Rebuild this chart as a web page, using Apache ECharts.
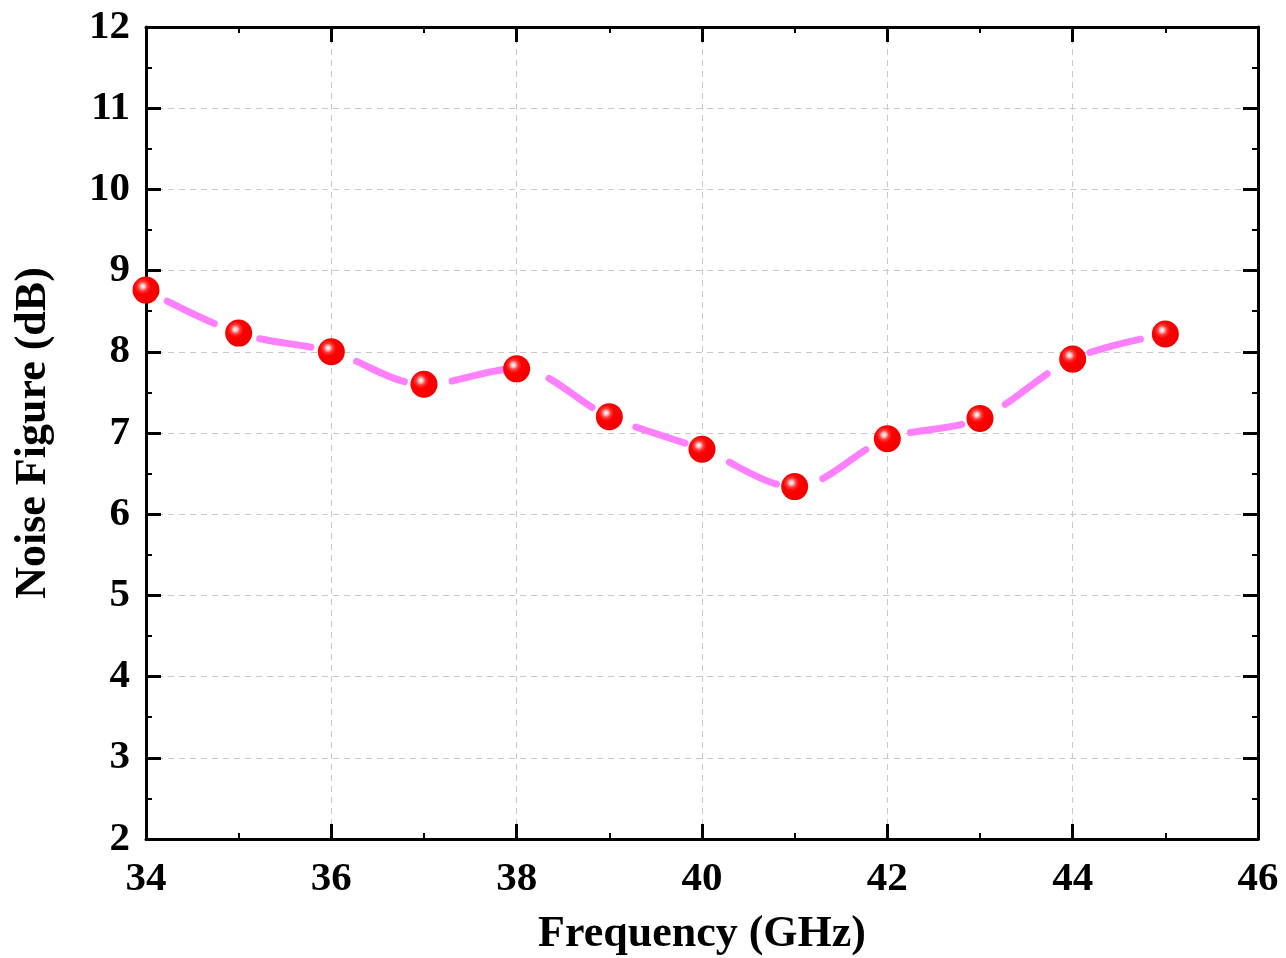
<!DOCTYPE html>
<html>
<head>
<meta charset="utf-8">
<script src="https://cdn.jsdelivr.net/npm/echarts@6/dist/echarts.min.js"></script>
<style>
  html, body { margin: 0; padding: 0; background: #fff; }
  #chart { width: 1286px; height: 958px; }
</style>
</head>
<body>
<div id="chart"></div>
<script>
// Measured noise figure across the band
const frequencyGHz = [34, 35, 36, 37, 38, 39, 40, 41, 42, 43, 44, 45];
const noiseFigureDb = [8.76, 8.23, 8.0, 7.6, 7.79, 7.2, 6.8, 6.34, 6.93, 7.18, 7.91, 8.22];

const xTitle = 'Frequency (GHz)';
const yTitle = 'Noise Figure (dB)';

const FONT = '"Liberation Serif", "Times New Roman", serif';
const AXIS_COLOR = '#000';

const points = frequencyGHz.map((f, i) => [f, noiseFigureDb[i]]);

// glossy red ball marker
const sphere = {
  type: 'radial', x: 0.38, y: 0.36, r: 0.62,
  colorStops: [
    { offset: 0, color: '#ffffff' },
    { offset: 0.12, color: '#ffc8c8' },
    { offset: 0.28, color: '#ff3a3a' },
    { offset: 0.48, color: '#ff0000' },
    { offset: 1, color: '#f20000' }
  ]
};

function frameAxis(extra) {
  return Object.assign({
    axisLine: { show: true, onZero: false, lineStyle: { color: AXIS_COLOR, width: 3 } },
    axisTick: { show: true, inside: true, length: 15, lineStyle: { color: AXIS_COLOR, width: 3 } },
    minorTick: { show: true, splitNumber: 2, length: 6, lineStyle: { color: AXIS_COLOR, width: 2 } },
    splitLine: { show: false },
    axisLabel: { show: false }
  }, extra);
}

const chart = echarts.init(document.getElementById('chart'), null, { renderer: 'canvas' });

chart.setOption({
  backgroundColor: '#ffffff',
  animation: false,
  grid: { left: 146, right: 28, top: 27, bottom: 119, containLabel: false, outerBoundsMode: 'none' },
  xAxis: [
    frameAxis({
      type: 'value', position: 'bottom', min: 34, max: 46, interval: 2,
      name: xTitle, nameLocation: 'middle', nameGap: 74,
      nameTextStyle: { fontFamily: FONT, fontWeight: 'bold', fontSize: 44, color: '#000' },
      axisLabel: { show: true, margin: 20, fontFamily: FONT, fontWeight: 'bold', fontSize: 41, color: '#000' },
      splitLine: { show: true, lineStyle: { color: '#c8c8c8', width: 1, type: [6, 5] } }
    }),
    frameAxis({ type: 'value', position: 'top', min: 34, max: 46, interval: 2 })
  ],
  yAxis: [
    frameAxis({
      type: 'value', position: 'left', min: 2, max: 12, interval: 1,
      name: yTitle, nameLocation: 'middle', nameGap: 90,
      nameTextStyle: { fontFamily: FONT, fontWeight: 'bold', fontSize: 44, color: '#000' },
      axisLabel: { show: true, margin: 16, fontFamily: FONT, fontWeight: 'bold', fontSize: 41, color: '#000' },
      splitLine: { show: true, lineStyle: { color: '#c8c8c8', width: 1, type: [6, 5] } }
    }),
    frameAxis({ type: 'value', position: 'right', min: 2, max: 12, interval: 1 })
  ],
  series: [{
    type: 'line',
    data: points,
    smooth: 0.35,
    clip: true,
    symbol: 'circle',
    symbolSize: 27,
    itemStyle: { color: sphere, borderWidth: 0 },
    lineStyle: { color: '#ff80ff', width: 7, type: [52, 48], dashOffset: 76, cap: 'round' },
    z: 3
  }]
});
</script>
</body>
</html>
